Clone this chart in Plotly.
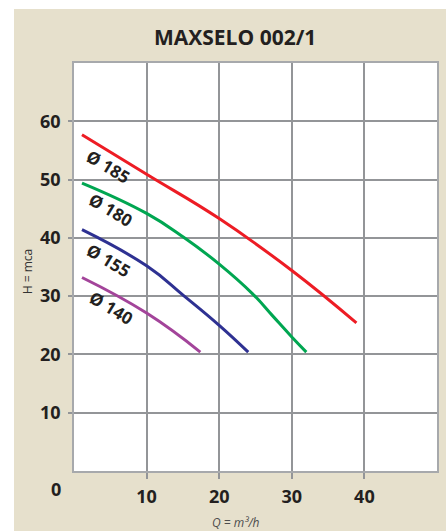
import plotly.graph_objects as go

title = "MAXSELO 002/1"
x_ticks = [10, 20, 30, 40]
y_ticks = [10, 20, 30, 40, 50, 60]

q_185 = [1.1, 10, 20, 30, 38.9]
h_185 = [57.7, 50.9, 43.3, 34.4, 25.4]
q_180 = [1.1, 10, 15.1, 20, 24.6, 27.3, 30, 32.0]
h_180 = [49.4, 44.2, 40.1, 35.5, 30.4, 26.7, 23.0, 20.4]
q_155 = [1.1, 10, 15.1, 20, 24.0]
h_155 = [41.4, 35.2, 30.1, 25.0, 20.4]
q_140 = [1.1, 10, 17.4]
h_140 = [33.2, 27.1, 20.4]

labels = ["Ø 185", "Ø 180", "Ø 155", "Ø 140"]
label_q = [4.7, 5.0, 4.8, 5.1]
label_h = [52.3, 44.8, 36.1, 28.1]

colors = ["#ed1c24", "#00a651", "#2e3192", "#a3449a"]
series = [(q_185, h_185), (q_180, h_180), (q_155, h_155), (q_140, h_140)]

FONT = "Open Sans"
BEIGE = "#e6e0cc"
GRID = "#939598"
TXT = "#231f20"

# page offsets (white border of the page) and plot area in page px: x 74-439, y 63-471
OFF_X, OFF_Y = 14, 9
PAGE_W, PAGE_H = 446, 531
W, H = PAGE_W - OFF_X, PAGE_H - OFF_Y
L, R, T, B = 74 - OFF_X, PAGE_W - 439, 63 - OFF_Y, PAGE_H - 471
pw, ph = 439 - 74, 471 - 63


def px(x):
    return (x - 74) / pw


def py(y):
    return (471 - y) / ph


fig = go.Figure()
for (q, h), c in zip(series, colors):
    fig.add_trace(go.Scatter(x=q, y=h, mode="lines",
                             line=dict(color=c, width=3, shape="spline", smoothing=1.3),
                             showlegend=False, hoverinfo="skip"))

for t, xq, yh in zip(labels, label_q, label_h):
    fig.add_annotation(x=xq, y=yh, text=t, showarrow=False, textangle=31,
                       xanchor="center", yanchor="middle",
                       font=dict(family=FONT, size=17, color=TXT, weight="bold"))

def ann(x, y, text, size, color, angle=0):
    fig.add_annotation(xref="paper", yref="paper", x=px(x), y=py(y), text=text,
                       xanchor="center", yanchor="middle", textangle=angle,
                       showarrow=False, font=dict(family=FONT, size=size, color=color))

ann(236, 37, "<b>" + title + "</b>", 21, TXT)
ann(56, 489, "<b>0</b>", 18, TXT)
ann(27, 272, "H = mca", 12, "#333333", angle=-90)
ann(237, 522, "<i>Q = m³/h</i>", 12, "#4d4d4d")

fig.update_layout(
    width=W, height=H,
    margin=dict(l=L, r=R, t=T, b=B, pad=0),
    paper_bgcolor=BEIGE, plot_bgcolor="white",
    xaxis=dict(range=[0, 50], tickvals=x_ticks, showgrid=True, gridcolor=GRID, gridwidth=2,
               ticks="outside", ticklen=6, tickwidth=2, tickcolor=GRID,
               showline=True, linecolor="#a7a9ac", linewidth=1.5, mirror=True, zeroline=False,
               tickfont=dict(family=FONT, size=18, color=TXT, weight="bold"), ticklabelstandoff=3),
    yaxis=dict(range=[0, 70], tickvals=y_ticks, showgrid=True, gridcolor=GRID, gridwidth=2,
               ticks="outside", ticklen=4, tickwidth=2, tickcolor=GRID,
               showline=True, linecolor="#a7a9ac", linewidth=1.5, mirror=True, zeroline=False,
               tickfont=dict(family=FONT, size=18, color=TXT, weight="bold"), ticklabelstandoff=4),
)

fig.write_html("out.html", config={"displayModeBar": False},
               post_script="document.body.style.margin='%dpx 0 0 %dpx';" % (OFF_Y, OFF_X))
